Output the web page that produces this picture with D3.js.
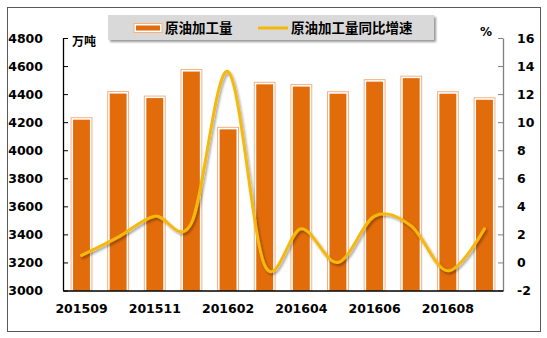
<!DOCTYPE html>
<meta charset="utf-8">
<head>
<style>
  html, body { margin: 0; padding: 0; background: white; }
  svg text { font-family: "DejaVu Sans", "Noto Sans CJK SC", sans-serif; font-weight: bold; fill: #000; }
  .cn { font-family: "Noto Sans CJK SC", sans-serif; }
</style>
<script src="https://cdn.jsdelivr.net/npm/d3@7"></script>
</head>
<body>
<script>
// DATA
var months = ['201509','201510','201511','201512','201602','201603','201604','201605','201606','201607','201608','201609'];
var output = [4232, 4418, 4386, 4575, 4163, 4484, 4468, 4417, 4503, 4528, 4417, 4374];
var growth = [0.5, 1.8, 3.3, 2.8, 13.6, -0.2, 2.4, 0.0, 3.3, 2.6, -0.6, 2.4];
var leftTicks = [3000, 3200, 3400, 3600, 3800, 4000, 4200, 4400, 4600, 4800];
var rightTicks = [-2, 0, 2, 4, 6, 8, 10, 12, 14, 16];
var shownLabels = ['201509','201511','201602','201604','201606','201608'];

// SETUP
var W = 547, H = 338,
	plot = { left: 63, right: 503, top: 38, bottom: 290.5 };

var svg = d3.select('body').append('svg')
	.attr('width', W)
	.attr('height', H);

var defs = svg.append('defs');
var sh = defs.append('filter').attr('id', 'lineShadow')
	.attr('x', '-10%').attr('y', '-10%').attr('width', '120%').attr('height', '130%');
sh.append('feDropShadow').attr('dx', 1.5).attr('dy', 2).attr('stdDeviation', 1.2)
	.attr('flood-color', '#000').attr('flood-opacity', 0.35);
var bs = defs.append('filter').attr('id', 'boxShadow')
	.attr('x', '-5%').attr('y', '-20%').attr('width', '110%').attr('height', '160%');
bs.append('feDropShadow').attr('dx', 2).attr('dy', 2).attr('stdDeviation', 1.2)
	.attr('flood-color', '#000').attr('flood-opacity', 0.4);

// outer frame
svg.append('rect')
	.attr('x', 7.5).attr('y', 7.5)
	.attr('width', 533).attr('height', 324)
	.attr('fill', 'white')
	.attr('stroke', '#595959')
	.attr('stroke-width', 1);

var x = d3.scaleBand().domain(months).range([plot.left, plot.right]).paddingInner(0.43).paddingOuter(0.22),
	yL = d3.scaleLinear().domain([3000, 4800]).range([plot.bottom, plot.top]),
	yR = d3.scaleLinear().domain([-2, 16]).range([plot.bottom, plot.top]);

var plain = function(d) { return String(d); };

// BARS
var bars = svg.append('g').selectAll('g.bar')
	.data(output)
	.enter().append('g').attr('class', 'bar');

bars.append('rect')
	.attr('x', function(d, i) { return x(months[i]); })
	.attr('y', function(d) { return yL(d); })
	.attr('width', x.bandwidth())
	.attr('height', function(d) { return plot.bottom - yL(d); })
	.attr('fill', 'white')
	.attr('stroke', '#F4B183')
	.attr('stroke-width', 1);

bars.append('rect')
	.attr('x', function(d, i) { return x(months[i]) + 2; })
	.attr('y', function(d) { return yL(d) + 2; })
	.attr('width', x.bandwidth() - 4)
	.attr('height', function(d) { return plot.bottom - yL(d) - 2; })
	.attr('fill', '#E26B0A');

// LINE
var line = d3.line()
	.x(function(d, i) { return x(months[i]) + x.bandwidth() / 2; })
	.y(function(d) { return yR(d); })
	.curve(d3.curveCardinal.tension(0));

svg.append('path')
	.datum(growth)
	.attr('d', line)
	.attr('fill', 'none')
	.attr('stroke', '#F5B80A')
	.attr('stroke-width', 3)
	.attr('stroke-linecap', 'round')
	.attr('filter', 'url(#lineShadow)');

// AXES
var axL = svg.append('g')
	.attr('transform', 'translate(' + plot.left + ',0)')
	.call(d3.axisLeft(yL).tickValues(leftTicks).tickFormat(plain).tickSize(-5).tickSizeOuter(0).tickPadding(20));
axL.select('.domain').attr('stroke', '#000').attr('stroke-width', 1.3);
axL.selectAll('.tick line').attr('stroke', '#000');
axL.selectAll('.tick text').attr('font-size', '12.5px');

var axR = svg.append('g')
	.attr('transform', 'translate(' + plot.right + ',0)')
	.call(d3.axisRight(yR).tickValues(rightTicks).tickFormat(plain).tickSize(-5).tickSizeOuter(0).tickPadding(14));
axR.select('.domain').attr('stroke', '#808080').attr('stroke-width', 1.3);
axR.selectAll('.tick line').attr('stroke', '#808080');
axR.selectAll('.tick text').attr('font-size', '12.5px');

var axB = svg.append('g')
	.attr('transform', 'translate(0,' + plot.bottom + ')')
	.call(d3.axisBottom(x).tickValues(shownLabels).tickSize(0).tickSizeOuter(0).tickPadding(14));
axB.select('.domain').attr('stroke', '#000').attr('stroke-width', 1.3);
axB.selectAll('.tick text').attr('font-size', '12.5px');

// units
svg.append('text').attr('class', 'cn')
	.attr('x', 72).attr('y', 46)
	.attr('font-size', '12px')
	.text('万吨');
svg.append('text')
	.attr('x', 480).attr('y', 36)
	.attr('font-size', '12px')
	.text('%');

// LEGEND
var lg = svg.append('g');
lg.append('rect')
	.attr('x', 108).attr('y', 15)
	.attr('width', 326).attr('height', 25)
	.attr('fill', '#D9D9D9')
	.attr('filter', 'url(#boxShadow)');
lg.append('rect')
	.attr('x', 134).attr('y', 23.5)
	.attr('width', 28).attr('height', 9)
	.attr('fill', 'white')
	.attr('stroke', '#F4B183');
lg.append('rect')
	.attr('x', 136).attr('y', 25.5)
	.attr('width', 24).attr('height', 5)
	.attr('fill', '#E26B0A');
lg.append('text').attr('class', 'cn')
	.attr('x', 165).attr('y', 33)
	.attr('font-size', '13.5px')
	.text('原油加工量');
lg.append('line')
	.attr('x1', 258).attr('x2', 288)
	.attr('y1', 28).attr('y2', 28)
	.attr('stroke', '#F5B80A')
	.attr('stroke-width', 3);
lg.append('text').attr('class', 'cn')
	.attr('x', 291).attr('y', 33)
	.attr('font-size', '13.5px')
	.text('原油加工量同比增速');
</script>
</body>
